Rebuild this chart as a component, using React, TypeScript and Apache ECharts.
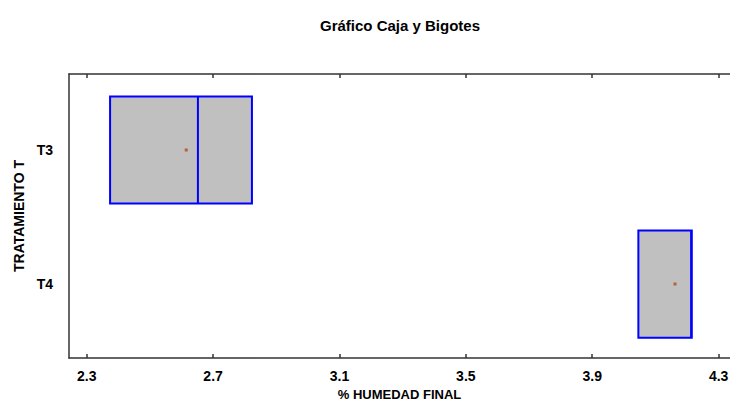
import React, { useEffect, useRef } from "react";
import * as echarts from "echarts";

const categories = ["T4", "T3"]; // y positions 0 and 1
const q1Values = [4.046, 2.374];
const medianValues = [4.213, 2.652];
const q3Values = [4.215, 2.823];
const meanValues = [4.162, 2.615];
const xTicks = [2.3, 2.7, 3.1, 3.5, 3.9, 4.3];

export default function App() {
  const ref = useRef<HTMLDivElement>(null);
  useEffect(() => {
    document.body.style.margin = "0";
    const chart = echarts.init(ref.current!, undefined, { renderer: "svg" });
    const font = "'Liberation Sans', Arial, sans-serif";
    const boxData = categories.map((_, i) => [i, q1Values[i], medianValues[i], q3Values[i]]);
    const meanData = categories.map((_, i) => [meanValues[i], i]);
    const halfH = 0.4;
    const txt = { fontFamily: font, fontWeight: "bold", fontSize: 14, color: "#000" };
    chart.setOption({
      animation: false,
      backgroundColor: "#fff",
      graphic: [
        {
          type: "text",
          x: 400,
          y: 25,
          style: {
            text: "Gráfico Caja y Bigotes",
            fontFamily: font,
            fontWeight: "bold",
            fontSize: 15,
            fill: "#000",
            align: "center",
            verticalAlign: "middle",
          },
        },
      ],
      grid: { left: 69, right: 0, top: 74, bottom: 43, outerBoundsMode: "none", containLabel: false },
      xAxis: [
        {
          type: "value",
          min: 2.244,
          max: 4.336,
          position: "bottom",
          splitLine: { show: false },
          axisLine: { show: true, onZero: false, lineStyle: { color: "#333", width: 1.5 } },
          axisTick: { show: true, inside: true, length: 4, customValues: xTicks, lineStyle: { color: "#333", width: 1.5 } },
          axisLabel: {
            customValues: xTicks,
            formatter: (v: number) => v.toFixed(1),
            ...txt,
            margin: 11,
          },
          name: "% HUMEDAD FINAL",
          nameLocation: "middle",
          nameGap: 23,
          nameTextStyle: { ...txt, fontSize: 13, lineHeight: 14 },
        },
        {
          type: "value",
          min: 2.244,
          max: 4.336,
          position: "top",
          splitLine: { show: false },
          axisLine: { show: true, onZero: false, lineStyle: { color: "#333", width: 1.5 } },
          axisTick: { show: true, inside: true, length: 4, customValues: xTicks, lineStyle: { color: "#333", width: 1.5 } },
          axisLabel: { show: false },
        },
      ],
      yAxis: {
        type: "value",
        min: -0.552,
        max: 1.567,
        splitLine: { show: false },
        axisLine: { show: true, onZero: false, lineStyle: { color: "#333", width: 1.5 } },
        axisTick: { show: false },
        axisLabel: {
          customValues: [0, 1],
          formatter: (v: number) => categories[Math.round(v)] ?? "",
          ...txt,
          margin: 16,
        },
        name: "TRATAMIENTO T",
        nameLocation: "middle",
        nameGap: 43,
        nameTextStyle: txt,
      },
      series: [
        {
          type: "custom",
          xAxisIndex: 0,
          data: boxData,
          encode: { x: [1, 2, 3], y: 0 },
          renderItem: (params: any, api: any) => {
            const y = api.value(0);
            const p1 = api.coord([api.value(1), y + halfH]);
            const pm = api.coord([api.value(2), y - halfH]);
            const p3 = api.coord([api.value(3), y - halfH]);
            const top = p1[1];
            const bottom = p3[1];
            return {
              type: "group",
              children: [
                {
                  type: "rect",
                  shape: { x: p1[0], y: top, width: p3[0] - p1[0], height: bottom - top },
                  style: { fill: "#c0c0c0", stroke: "#0000ff", lineWidth: 2 },
                },
                {
                  type: "line",
                  shape: { x1: pm[0], y1: top, x2: pm[0], y2: bottom },
                  style: { stroke: "#0000ff", lineWidth: 2 },
                },
              ],
            };
          },
        },
        {
          type: "scatter",
          xAxisIndex: 0,
          data: meanData,
          symbol: "rect",
          symbolSize: 3,
          itemStyle: { color: "#b04a10" },
        },
      ],
    });
    return () => chart.dispose();
  }, []);
  return <div ref={ref} style={{ width: 730, height: 401 }} />;
}
